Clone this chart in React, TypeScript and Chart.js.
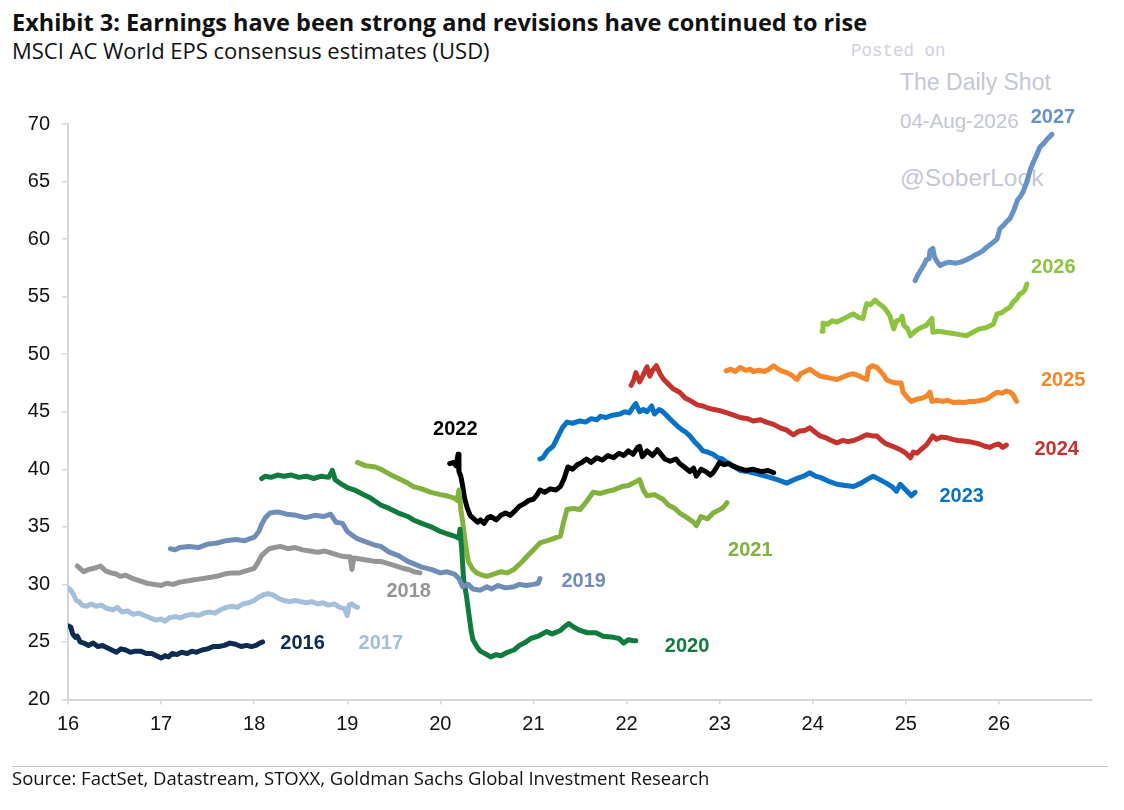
import React, { useEffect, useRef } from "react";
import { Chart, registerables } from "chart.js";

Chart.register(...registerables);

type P = [number, number];

// x = year (16 = 2016), y = EPS (USD)
const eps2016: P[] = [[16.00,26.4],[16.03,26.3],[16.05,25.7],[16.08,25.4],[16.10,25.5],[16.13,25.0],[16.17,24.9],[16.22,24.7],[16.27,24.9],[16.32,24.6],[16.37,24.7],[16.42,24.5],[16.47,24.3],[16.52,24.1],[16.57,24.4],[16.62,24.3],[16.67,24.1],[16.72,24.2],[16.78,24.2],[16.84,24.0],[16.90,24.0],[16.95,23.8],[17.00,23.6],[17.04,23.8],[17.08,23.7],[17.12,24.0],[17.17,23.9],[17.22,24.1],[17.28,24.0],[17.33,24.2],[17.38,24.1],[17.44,24.3],[17.50,24.4],[17.56,24.6],[17.62,24.6],[17.68,24.7],[17.74,24.9],[17.80,24.8],[17.86,24.6],[17.92,24.7],[17.97,24.6],[18.02,24.7],[18.06,24.9],[18.09,25.0]];
const eps2017: P[] = [[16.00,29.7],[16.03,29.5],[16.06,29.1],[16.09,28.6],[16.12,28.5],[16.15,28.2],[16.20,28.1],[16.25,28.3],[16.30,28.1],[16.36,28.2],[16.42,27.9],[16.48,27.8],[16.53,28.0],[16.58,27.6],[16.64,27.7],[16.70,27.4],[16.76,27.5],[16.82,27.3],[16.88,27.1],[16.94,26.9],[17.00,27.0],[17.04,26.8],[17.09,27.1],[17.15,27.2],[17.21,27.1],[17.27,27.3],[17.33,27.4],[17.40,27.3],[17.46,27.5],[17.52,27.6],[17.58,27.5],[17.64,27.8],[17.70,28.0],[17.76,28.1],[17.82,28.0],[17.88,28.3],[17.94,28.4],[18.00,28.6],[18.05,28.9],[18.10,29.1],[18.15,29.2],[18.20,29.1],[18.26,28.8],[18.32,28.6],[18.38,28.5],[18.44,28.6],[18.50,28.5],[18.56,28.4],[18.62,28.5],[18.68,28.3],[18.74,28.4],[18.80,28.2],[18.86,28.3],[18.92,28.0],[18.97,27.9],[19.00,27.3],[19.02,28.2],[19.05,28.3],[19.08,28.1],[19.11,28.0]];
const eps2018: P[] = [[16.10,31.6],[16.14,31.3],[16.17,31.1],[16.22,31.3],[16.28,31.4],[16.35,31.6],[16.40,31.2],[16.46,31.0],[16.52,30.9],[16.56,30.7],[16.62,30.8],[16.70,30.5],[16.77,30.3],[16.85,30.1],[16.92,30.0],[17.00,29.9],[17.06,30.1],[17.13,30.0],[17.20,30.2],[17.28,30.3],[17.36,30.4],[17.44,30.5],[17.52,30.6],[17.60,30.7],[17.68,30.9],[17.76,31.0],[17.84,31.0],[17.92,31.2],[18.00,31.4],[18.04,31.9],[18.08,32.5],[18.12,32.8],[18.16,33.1],[18.22,33.2],[18.28,33.3],[18.36,33.1],[18.44,33.2],[18.52,33.0],[18.60,32.9],[18.68,32.8],[18.76,32.9],[18.84,32.7],[18.92,32.5],[18.98,32.4],[19.03,32.4],[19.05,31.3],[19.07,32.3],[19.14,32.2],[19.22,32.1],[19.30,32.0],[19.36,32.0],[19.44,31.8],[19.52,31.6],[19.60,31.4],[19.66,31.3],[19.72,31.1],[19.78,31.0]];
const eps2019: P[] = [[17.10,33.1],[17.15,33.0],[17.20,33.2],[17.30,33.3],[17.40,33.2],[17.50,33.5],[17.60,33.6],[17.70,33.8],[17.80,33.9],[17.90,33.8],[18.00,34.1],[18.05,34.6],[18.08,35.2],[18.12,35.8],[18.17,36.2],[18.25,36.3],[18.35,36.1],[18.45,36.0],[18.55,35.8],[18.65,36.0],[18.75,35.9],[18.82,36.1],[18.88,35.4],[18.95,35.3],[19.00,34.6],[19.05,34.3],[19.10,34.0],[19.20,33.7],[19.30,33.4],[19.36,33.3],[19.45,32.8],[19.55,32.5],[19.65,32.0],[19.71,31.8],[19.80,31.5],[19.90,31.3],[20.00,31.0],[20.07,31.1],[20.15,30.9],[20.20,30.5],[20.24,29.8],[20.30,30.0],[20.35,29.6],[20.43,29.5],[20.50,29.8],[20.55,29.6],[20.62,29.9],[20.70,29.7],[20.79,29.8],[20.85,30.0],[20.92,29.9],[21.00,30.0],[21.05,30.1],[21.07,30.5]];
const eps2020: P[] = [[18.08,39.2],[18.12,39.4],[18.18,39.3],[18.25,39.5],[18.32,39.4],[18.40,39.5],[18.48,39.3],[18.56,39.4],[18.64,39.2],[18.72,39.4],[18.80,39.3],[18.84,39.9],[18.87,39.1],[18.92,38.8],[19.00,38.4],[19.08,38.2],[19.15,37.9],[19.25,37.5],[19.36,36.9],[19.45,36.6],[19.55,36.2],[19.65,35.9],[19.71,35.6],[19.80,35.3],[19.90,35.0],[20.00,34.6],[20.07,34.4],[20.15,34.2],[20.20,34.0],[20.21,34.8],[20.23,33.0],[20.25,30.4],[20.28,29.0],[20.30,27.8],[20.33,26.0],[20.35,25.2],[20.40,24.5],[20.43,24.2],[20.50,23.9],[20.54,23.7],[20.60,23.9],[20.65,23.8],[20.72,24.1],[20.79,24.3],[20.85,24.7],[20.92,25.0],[20.97,25.3],[21.05,25.5],[21.14,25.9],[21.20,25.7],[21.29,26.0],[21.33,26.3],[21.38,26.6],[21.43,26.3],[21.50,26.0],[21.58,25.8],[21.67,25.8],[21.75,25.5],[21.86,25.4],[21.92,25.3],[21.97,24.9],[22.02,25.2],[22.07,25.1],[22.10,25.1]];
const eps2021: P[] = [[19.11,40.6],[19.20,40.3],[19.30,40.2],[19.36,40.0],[19.45,39.6],[19.55,39.2],[19.65,38.8],[19.71,38.5],[19.80,38.3],[19.90,38.0],[20.00,37.8],[20.07,37.7],[20.15,37.5],[20.18,37.3],[20.20,38.2],[20.22,36.5],[20.24,35.4],[20.27,33.5],[20.30,32.0],[20.35,31.3],[20.39,31.0],[20.45,30.8],[20.50,30.7],[20.57,30.9],[20.65,31.1],[20.72,31.0],[20.79,31.3],[20.87,31.9],[20.95,32.6],[21.00,33.0],[21.07,33.6],[21.15,33.8],[21.22,34.0],[21.29,34.2],[21.32,35.3],[21.36,36.5],[21.43,36.6],[21.50,36.5],[21.57,37.2],[21.64,38.0],[21.72,37.9],[21.80,38.1],[21.86,38.2],[21.95,38.5],[22.02,38.6],[22.07,38.8],[22.14,39.1],[22.18,38.2],[22.22,37.7],[22.30,37.8],[22.39,37.4],[22.45,36.9],[22.52,36.6],[22.57,36.2],[22.65,35.8],[22.72,35.4],[22.75,35.1],[22.80,35.9],[22.87,35.7],[22.93,36.2],[23.00,36.5],[23.04,36.7],[23.08,37.1]];
const eps2022: P[] = [[20.10,40.5],[20.14,40.6],[20.17,40.3],[20.19,41.3],[20.20,39.8],[20.22,39.4],[20.24,38.5],[20.26,37.5],[20.29,36.6],[20.32,36.0],[20.36,35.7],[20.40,35.4],[20.43,35.6],[20.47,35.3],[20.51,35.8],[20.54,35.9],[20.60,35.6],[20.65,36.0],[20.70,36.2],[20.75,36.0],[20.79,36.3],[20.85,36.8],[20.90,37.0],[20.95,37.3],[21.00,37.4],[21.04,37.8],[21.07,38.2],[21.12,38.0],[21.18,38.3],[21.24,38.2],[21.29,38.5],[21.33,39.2],[21.37,40.2],[21.42,40.0],[21.47,40.4],[21.52,40.6],[21.57,40.9],[21.62,40.6],[21.68,41.0],[21.74,40.8],[21.80,41.2],[21.86,41.0],[21.92,41.4],[21.97,41.2],[22.02,41.6],[22.07,41.3],[22.12,41.9],[22.14,42.0],[22.17,41.1],[22.22,41.6],[22.28,41.2],[22.33,41.7],[22.36,41.4],[22.41,40.9],[22.47,40.7],[22.53,40.9],[22.57,40.5],[22.62,40.2],[22.68,39.8],[22.72,40.1],[22.75,39.4],[22.80,40.0],[22.85,39.8],[22.90,39.5],[22.93,39.7],[22.97,40.2],[23.00,40.6],[23.05,40.4],[23.10,40.5],[23.14,40.3],[23.20,40.1],[23.28,39.9],[23.36,40.0],[23.45,39.8],[23.52,39.9],[23.58,39.7]];
const eps2023: P[] = [[21.07,40.9],[21.10,41.0],[21.15,41.6],[21.21,42.0],[21.26,42.8],[21.31,43.6],[21.36,44.1],[21.42,44.0],[21.50,44.2],[21.56,44.1],[21.62,44.4],[21.68,44.3],[21.72,44.6],[21.78,44.5],[21.85,44.7],[21.93,44.8],[21.98,45.0],[22.03,44.9],[22.07,45.4],[22.10,45.7],[22.14,45.0],[22.18,45.2],[22.22,45.0],[22.27,45.5],[22.30,44.8],[22.35,45.2],[22.39,45.0],[22.44,44.6],[22.49,44.2],[22.54,43.8],[22.60,43.4],[22.64,43.2],[22.68,42.9],[22.73,42.4],[22.78,42.0],[22.82,41.6],[22.87,41.5],[22.93,41.3],[22.98,41.0],[23.03,40.9],[23.08,40.6],[23.14,40.3],[23.22,39.9],[23.30,39.8],[23.36,39.7],[23.45,39.5],[23.54,39.3],[23.62,39.1],[23.72,38.8],[23.80,39.1],[23.90,39.4],[23.97,39.7],[24.03,39.4],[24.08,39.3],[24.16,39.0],[24.26,38.7],[24.35,38.6],[24.44,38.5],[24.52,38.8],[24.58,39.1],[24.65,39.4],[24.72,39.1],[24.79,38.8],[24.85,38.5],[24.90,38.1],[24.94,38.7],[25.00,38.2],[25.06,37.7],[25.10,38.0]];
const eps2024: P[] = [[22.05,47.3],[22.08,47.8],[22.10,48.4],[22.14,47.6],[22.18,48.2],[22.22,48.9],[22.25,48.1],[22.28,48.6],[22.32,49.0],[22.36,48.3],[22.40,47.8],[22.45,47.4],[22.50,47.0],[22.57,46.7],[22.63,46.2],[22.70,45.9],[22.76,45.6],[22.82,45.5],[22.88,45.3],[22.94,45.2],[23.00,45.1],[23.08,44.9],[23.15,44.7],[23.22,44.5],[23.30,44.4],[23.36,44.2],[23.44,44.3],[23.50,44.1],[23.58,43.9],[23.65,43.6],[23.72,43.4],[23.79,43.0],[23.85,43.3],[23.92,43.4],[23.97,43.6],[24.03,43.2],[24.08,42.9],[24.15,42.7],[24.20,42.5],[24.26,42.3],[24.32,42.5],[24.38,42.4],[24.44,42.5],[24.50,42.7],[24.55,42.9],[24.58,43.0],[24.64,42.9],[24.69,42.9],[24.74,42.5],[24.79,42.2],[24.86,42.0],[24.94,41.7],[25.00,41.4],[25.05,41.0],[25.08,41.5],[25.12,41.4],[25.16,41.7],[25.22,42.1],[25.29,42.9],[25.33,42.6],[25.38,42.8],[25.44,42.75],[25.50,42.6],[25.56,42.5],[25.62,42.45],[25.68,42.4],[25.74,42.3],[25.79,42.2],[25.85,42.0],[25.90,41.9],[25.95,42.1],[26.00,42.2],[26.04,41.9],[26.08,42.1]];
const eps2025: P[] = [[23.07,48.55],[23.12,48.7],[23.17,48.5],[23.22,48.85],[23.28,48.6],[23.33,48.7],[23.36,48.5],[23.42,48.6],[23.48,48.5],[23.53,48.7],[23.58,49.0],[23.63,48.7],[23.68,48.5],[23.72,48.4],[23.77,48.2],[23.83,47.8],[23.87,48.3],[23.92,48.5],[23.97,48.7],[24.02,48.4],[24.08,48.1],[24.14,48.0],[24.20,47.9],[24.26,47.8],[24.32,48.0],[24.38,48.2],[24.44,48.3],[24.50,48.1],[24.55,47.9],[24.58,47.8],[24.60,48.8],[24.64,49.0],[24.69,48.85],[24.73,48.5],[24.76,48.2],[24.79,47.8],[24.84,47.6],[24.90,47.5],[24.95,47.5],[24.97,46.7],[25.02,46.2],[25.06,45.9],[25.12,46.1],[25.18,46.2],[25.23,46.4],[25.26,46.7],[25.28,45.9],[25.34,46.0],[25.40,45.9],[25.45,46.0],[25.51,45.8],[25.57,45.85],[25.63,45.8],[25.69,45.9],[25.75,45.9],[25.81,46.0],[25.87,46.1],[25.92,46.4],[25.98,46.7],[26.03,46.6],[26.08,46.8],[26.12,46.7],[26.15,46.5],[26.19,45.9]];
const eps2026: P[] = [[24.10,52.0],[24.11,52.7],[24.16,52.6],[24.21,52.9],[24.26,52.8],[24.31,53.0],[24.36,53.2],[24.41,53.4],[24.44,53.5],[24.49,53.2],[24.54,53.1],[24.56,53.8],[24.58,54.4],[24.62,54.3],[24.67,54.7],[24.71,54.4],[24.76,54.1],[24.80,53.7],[24.83,53.3],[24.87,52.2],[24.90,52.9],[24.94,53.0],[24.96,53.3],[24.98,52.5],[25.02,52.2],[25.05,51.6],[25.10,52.0],[25.16,52.3],[25.22,52.5],[25.28,53.1],[25.29,51.9],[25.35,52.0],[25.42,51.9],[25.51,51.8],[25.58,51.7],[25.65,51.6],[25.72,51.9],[25.79,52.2],[25.86,52.3],[25.94,52.6],[25.98,53.5],[26.03,53.6],[26.08,53.9],[26.12,54.1],[26.15,54.5],[26.19,54.8],[26.22,55.2],[26.26,55.4],[26.28,55.6],[26.30,56.1]];
const eps2027: P[] = [[25.10,56.4],[25.13,56.9],[25.16,57.3],[25.19,57.7],[25.22,58.2],[25.25,58.3],[25.26,59.0],[25.29,59.2],[25.31,58.4],[25.34,58.0],[25.37,57.7],[25.42,57.9],[25.47,58.0],[25.53,57.9],[25.59,58.0],[25.65,58.2],[25.70,58.4],[25.74,58.6],[25.79,58.8],[25.83,59.0],[25.87,59.3],[25.92,59.6],[25.98,60.0],[26.01,60.9],[26.05,61.2],[26.08,61.5],[26.12,61.8],[26.16,62.5],[26.20,63.4],[26.23,63.7],[26.26,64.1],[26.30,65.0],[26.34,66.1],[26.37,66.7],[26.40,67.2],[26.44,68.0],[26.48,68.3],[26.52,68.7],[26.57,69.1]];

const seriesData: P[][] = [eps2016, eps2017, eps2018, eps2019, eps2020, eps2021, eps2022, eps2023, eps2024, eps2025, eps2026, eps2027];
const seriesNames = ["2016", "2017", "2018", "2019", "2020", "2021", "2022", "2023", "2024", "2025", "2026", "2027"];
const seriesColors = ["#0c2c52", "#a4bfdb", "#959595", "#6f8db7", "#0f7b3c", "#82b23d", "#000000", "#0a72c6", "#c4342d", "#f5862a", "#8cc43e", "#6692c6"];
// label anchor positions (year, EPS)
const labelX = [18.52, 19.36, 19.66, 21.54, 22.65, 23.33, 20.16, 25.60, 26.62, 26.69, 26.585, 26.58];
const labelY = [25.03, 25.03, 29.54, 30.41, 24.75, 33.10, 43.62, 37.81, 41.88, 47.89, 57.70, 70.71];

const xMin = 16;
const xMax = 27;
const xLastTick = 26;
const yMin = 20;
const yMax = 70;
const yStep = 5;

const AXIS_GREY = "#d6d6d6";
const FONT = '"Liberation Sans", Arial, sans-serif';
const TEXT_FONT = '"Open Sans", "Noto Sans", sans-serif';

const labelPlugin = {
  id: "seriesLabels",
  afterDatasetsDraw(chart: any) {
    const { ctx, scales } = chart;
    const xs = scales.x;
    const ys = scales.y;
    ctx.save();
    ctx.font = `bold 20px ${FONT}`;
    ctx.textAlign = "center";
    ctx.textBaseline = "middle";
    seriesNames.forEach((name, i) => {
      ctx.fillStyle = seriesColors[i];
      ctx.fillText(name, xs.getPixelForValue(labelX[i]), ys.getPixelForValue(labelY[i]) + 1.5);
    });
    ctx.restore();
  },
};

export default function App() {
  const canvasRef = useRef<HTMLCanvasElement | null>(null);

  useEffect(() => {
    if (!canvasRef.current) return;
    const chart = new Chart(canvasRef.current, {
      type: "line",
      data: {
        datasets: seriesData.map((pts, i) => ({
          label: seriesNames[i],
          data: pts.map(([x, y]) => ({ x, y })),
          borderColor: seriesColors[i],
          backgroundColor: seriesColors[i],
          borderWidth: 5,
          pointRadius: 0,
          tension: 0,
          fill: false,
          borderJoinStyle: "round",
          borderCapStyle: "round",
        })),
      },
      options: {
        animation: false,
        responsive: false,
        maintainAspectRatio: false,
        layout: { padding: { top: 124, right: 32, left: 0, bottom: 0 } },
        plugins: {
          legend: { display: false },
          tooltip: { enabled: false },
          title: { display: false },
        },
        scales: {
          x: {
            type: "linear",
            min: xMin,
            max: xMax,
            afterBuildTicks: (s: any) => {
              s.ticks = s.ticks.filter((t: any) => t.value <= xLastTick);
            },
            afterFit: (s: any) => {
              s.height = 110.5;
            },
            ticks: {
              stepSize: 1,
              autoSkip: false,
              maxRotation: 0,
              padding: 8,
              color: "#111111",
              font: { family: FONT, size: 20 },
            },
            grid: { drawOnChartArea: false, drawTicks: true, tickLength: 5, color: AXIS_GREY, lineWidth: 1.5 },
            border: { color: AXIS_GREY, width: 2 },
          },
          y: {
            type: "linear",
            min: yMin,
            max: yMax,
            afterFit: (s: any) => {
              s.width = 68;
            },
            ticks: {
              stepSize: yStep,
              padding: 12,
              color: "#111111",
              font: { family: FONT, size: 20 },
            },
            grid: { drawOnChartArea: false, drawTicks: true, tickLength: 6, color: AXIS_GREY, lineWidth: 1.5 },
            border: { color: AXIS_GREY, width: 2 },
          },
        },
      },
      plugins: [labelPlugin],
    } as any);
    return () => chart.destroy();
  }, []);

  const wm: React.CSSProperties = { position: "absolute", whiteSpace: "nowrap", lineHeight: 1, color: "#c4c7d6" };

  return (
    <div style={{ position: "absolute", left: 0, top: 0, width: 1124, height: 810, background: "#ffffff", overflow: "hidden" }}>
      <div style={{ position: "absolute", left: 12, top: 10.8, fontFamily: TEXT_FONT, fontWeight: 700, fontSize: 23.5, lineHeight: 1, color: "#111", whiteSpace: "nowrap" }}>
        Exhibit 3: Earnings have been strong and revisions have continued to rise
      </div>
      <div style={{ position: "absolute", left: 12, top: 39, fontFamily: TEXT_FONT, fontWeight: 400, fontSize: 22, lineHeight: 1, color: "#111", whiteSpace: "nowrap" }}>
        MSCI AC World EPS consensus estimates (USD)
      </div>
      <div style={{ ...wm, left: 851, top: 43, fontFamily: '"Liberation Mono", monospace', fontSize: 17.5, color: "#cfd1dc" }}>Posted on</div>
      <div style={{ ...wm, left: 900, top: 71, fontFamily: FONT, fontSize: 23 }}>The Daily Shot</div>
      <div style={{ ...wm, left: 900, top: 111, fontFamily: FONT, fontSize: 20.5 }}>04-Aug-2026</div>
      <div style={{ ...wm, left: 900, top: 166, fontFamily: FONT, fontSize: 24.5 }}>@SoberLook</div>
      <canvas ref={canvasRef} width={1124} height={810} style={{ position: "absolute", left: 0, top: 0, width: 1124, height: 810 }} />
      <div style={{ position: "absolute", left: 12, top: 766, width: 1096, height: 0, borderTop: "1.5px solid #c4c4c4" }} />
      <div style={{ position: "absolute", left: 12, top: 768.8, fontFamily: TEXT_FONT, fontSize: 18.5, lineHeight: 1, color: "#111", whiteSpace: "nowrap" }}>
        Source: FactSet, Datastream, STOXX, Goldman Sachs Global Investment Research
      </div>
    </div>
  );
}
